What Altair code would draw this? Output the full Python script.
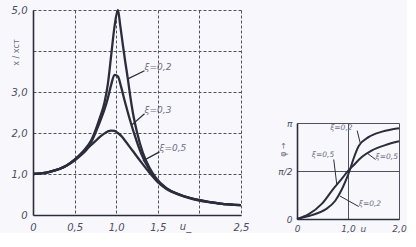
import math
import altair as alt
import pandas as pd

# ---------------- main chart: amplitude ratio vs u ----------------
u_02 = [0, 0.2, 0.4, 0.5, 0.6, 0.7, 0.8, 0.86, 0.9, 0.94, 0.98, 1.02, 1.05, 1.08, 1.11, 1.14, 1.17, 1.2, 1.25, 1.32, 1.4, 1.48, 1.6, 1.76, 2.0, 2.25, 2.5]
a_02 = [1.0, 1.05, 1.2, 1.35, 1.55, 1.82, 2.35, 2.75, 3.2, 3.9, 4.6, 5.0, 4.6, 4.15, 3.72, 3.32, 2.88, 2.5, 2.02, 1.52, 1.15, 0.9, 0.66, 0.5, 0.36, 0.28, 0.24]

u_03 = [0, 0.2, 0.4, 0.5, 0.6, 0.7, 0.8, 0.86, 0.9, 0.94, 0.98, 1.02, 1.06, 1.1, 1.14, 1.18, 1.22, 1.3, 1.4, 1.48, 1.6, 1.76, 2.0, 2.25, 2.5]
a_03 = [1.0, 1.05, 1.2, 1.35, 1.53, 1.78, 2.25, 2.58, 2.85, 3.18, 3.42, 3.38, 3.12, 2.8, 2.5, 2.22, 1.96, 1.5, 1.1, 0.87, 0.65, 0.5, 0.36, 0.28, 0.24]

u_05 = [0, 0.2, 0.4, 0.5, 0.6, 0.68, 0.75, 0.8, 0.86, 0.9, 0.94, 0.98, 1.02, 1.06, 1.1, 1.2, 1.3, 1.4, 1.5, 1.6, 1.76, 2.0, 2.25, 2.5]
a_05 = [1.0, 1.05, 1.2, 1.33, 1.5, 1.67, 1.8, 1.9, 1.99, 2.04, 2.06, 2.05, 2.0, 1.93, 1.83, 1.56, 1.29, 1.03, 0.8, 0.64, 0.49, 0.35, 0.28, 0.24]

main_x_ticks = [0, 0.5, 1.0, 1.5, 2.0, 2.5]
main_y_ticks = [0, 1, 2, 3, 4, 5]

main_label_text = ["ξ=0,2", "ξ=0,3", "ξ=0,5"]
main_label_u = [1.34, 1.34, 1.52]
main_label_a = [3.5, 2.45, 1.52]
main_leader_u1 = [1.14, 1.19, 1.32]
main_leader_a1 = [3.32, 2.2, 1.32]
main_leader_u2 = [1.34, 1.34, 1.52]
main_leader_a2 = [3.52, 2.47, 1.54]

# ---------------- inset: phase angle vs u ----------------
ui_02 = [0, 0.29, 0.56, 0.75, 0.88, 0.98, 1.03, 1.11, 1.21, 1.41, 1.67, 2.0]
phi_02 = [0, 0.04, 0.1, 0.19, 0.31, 0.43, 0.5, 0.63, 0.76, 0.855, 0.91, 0.945]
ui_05 = [0, 0.23, 0.49, 0.72, 0.88, 1.0, 1.11, 1.27, 1.47, 1.73, 2.0]
phi_05 = [0, 0.05, 0.16, 0.32, 0.42, 0.5, 0.56, 0.645, 0.715, 0.77, 0.81]

inset_label_text = ["ξ=0,5", "ξ=0,2", "ξ=0,2", "ξ=0,5"]
inset_label_u = [0.29, 1.21, 0.65, 1.54]
inset_label_phi = [0.62, 0.11, 0.91, 0.6]
inset_leader_u1 = [0.78, 0.84, 1.24, 1.39]
inset_leader_phi1 = [0.36, 0.24, 0.79, 0.68]
inset_leader_u2 = [0.72, 1.21, 1.18, 1.54]
inset_leader_phi2 = [0.62, 0.13, 0.92, 0.62]

INK = "#2c2c3c"
GRID = "#50505e"
TXT = "#4c4c62"
FAINT = "#6c6c86"
FONT = "DejaVu Sans"

# ---------- build main ----------
df_main = pd.concat([
    pd.DataFrame({"u": u_02, "a": a_02, "s": "0,2"}),
    pd.DataFrame({"u": u_03, "a": a_03, "s": "0,3"}),
    pd.DataFrame({"u": u_05, "a": a_05, "s": "0,5"}),
])

xm = alt.X("u:Q", scale=alt.Scale(domain=[0, 2.5], nice=False, zero=False),
           axis=alt.Axis(values=main_x_ticks,
                         labelExpr="datum.value == 2 ? '' : (datum.value == 0 ? '0' : replace(format(datum.value, '.1f'), '.', ','))",
                         grid=True, gridDash=[3, 2], gridColor=GRID, gridWidth=1,
                         ticks=False, domainColor=INK, domainWidth=1.6,
                         labelPadding=7, labelFont=FONT, labelFontSize=10, labelFontStyle="italic",
                         labelColor=TXT, labelFlush=False,
                         title="u_", titleX=152, titleY=6, titleBaseline="top", titleFont=FONT,
                         titleFontSize=10, titleFontStyle="italic", titleFontWeight="normal", titleColor=TXT))
ym = alt.Y("a:Q", scale=alt.Scale(domain=[0, 5], nice=False, zero=True),
           axis=alt.Axis(values=main_y_ticks,
                         labelExpr="datum.value == 4 ? '' : (datum.value == 0 ? '0' : replace(format(datum.value, '.1f'), '.', ','))",
                         grid=True, gridDash=[3, 2], gridColor=GRID, gridWidth=1,
                         ticks=False, domainColor=INK, domainWidth=1.6,
                         labelPadding=6, labelFont=FONT, labelFontSize=10, labelFontStyle="italic",
                         labelColor=TXT, labelFlush=False,
                         title="x / xст", titleX=-17, titleY=42, titleAngle=270, titleAlign="center",
                         titleBaseline="middle", titleFont=FONT, titleFontSize=8,
                         titleFontWeight="normal", titleColor=FAINT))

curves = alt.Chart(df_main).mark_line(interpolate="monotone", strokeWidth=2.3, color=INK).encode(
    x=xm, y=ym, detail="s:N")

df_ml = pd.DataFrame({"u": main_label_u, "a": main_label_a, "t": main_label_text})
mlabels = alt.Chart(df_ml).mark_text(align="left", baseline="bottom", font=FONT, fontSize=9,
                                     fontStyle="italic", color=FAINT).encode(
    x="u:Q", y="a:Q", text="t:N")
df_mr = pd.DataFrame({"u": main_leader_u1, "a": main_leader_a1, "u2": main_leader_u2, "a2": main_leader_a2})
mleaders = alt.Chart(df_mr).mark_rule(color=INK, strokeWidth=1.2).encode(
    x="u:Q", y="a:Q", x2="u2:Q", y2="a2:Q")

main = alt.layer(curves, mleaders, mlabels).properties(width=208, height=205)

# ---------- build inset ----------
df_in = pd.concat([
    pd.DataFrame({"u": ui_02, "phi": phi_02, "s": "0,2"}),
    pd.DataFrame({"u": ui_05, "phi": phi_05, "s": "0,5"}),
])
xi = alt.X("u:Q", scale=alt.Scale(domain=[0, 2], nice=False, zero=False),
           axis=alt.Axis(values=[0, 1, 2],
                         labelExpr="datum.value == 0 ? '0' : replace(format(datum.value, '.1f'), '.', ',')",
                         grid=True, gridColor=GRID, gridWidth=1, ticks=False,
                         domainColor=INK, domainWidth=1.6, labelPadding=5, labelFont=FONT,
                         labelFontSize=9, labelFontStyle="italic", labelColor=TXT, labelFlush=False,
                         title="u_", titleX=68, titleY=5, titleBaseline="top", titleFont=FONT,
                         titleFontSize=9, titleFontStyle="italic", titleFontWeight="normal", titleColor=TXT))
yi = alt.Y("phi:Q", scale=alt.Scale(domain=[0, 1], nice=False, zero=True),
           axis=alt.Axis(values=[0, 0.5, 1],
                         labelExpr="datum.value == 0 ? '0' : (datum.value == 1 ? 'π' : 'π/2')",
                         grid=True, gridColor=GRID, gridWidth=1, ticks=False,
                         domainColor=INK, domainWidth=1.6, labelPadding=5, labelFont=FONT,
                         labelFontSize=9, labelFontStyle="italic", labelColor=TXT, labelFlush=False,
                         title="φ →", titleX=-14, titleY=26, titleAngle=270, titleAlign="center",
                         titleBaseline="middle", titleFont=FONT, titleFontSize=8,
                         titleFontWeight="normal", titleColor=FAINT))
icurves = alt.Chart(df_in).mark_line(interpolate="monotone", strokeWidth=2.0, color=INK).encode(
    x=xi, y=yi, detail="s:N")
df_il = pd.DataFrame({"u": inset_label_u, "phi": inset_label_phi, "t": inset_label_text})
ilabels = alt.Chart(df_il).mark_text(align="left", baseline="bottom", font=FONT, fontSize=7.5,
                                     fontStyle="italic", color=FAINT).encode(
    x="u:Q", y="phi:Q", text="t:N")
df_ir = pd.DataFrame({"u": inset_leader_u1, "phi": inset_leader_phi1, "u2": inset_leader_u2, "phi2": inset_leader_phi2})
ileaders = alt.Chart(df_ir).mark_rule(color=INK, strokeWidth=1).encode(
    x="u:Q", y="phi:Q", x2="u2:Q", y2="phi2:Q")
inset = alt.layer(icurves, ileaders, ilabels).properties(width=102, height=96)

spacer = alt.Chart(pd.DataFrame({"v": [0]})).mark_point(opacity=0).encode(
    x=alt.X("v:Q", axis=None), y=alt.Y("v:Q", axis=None)).properties(width=102, height=109)

chart = alt.hconcat(main, alt.vconcat(spacer, inset, spacing=0), spacing=28).properties(
    padding={"left": 11, "top": 5, "right": 0, "bottom": 0},
    background="#f8f8fc",
).configure_view(stroke=None)

chart.save("out.html", embed_options={"renderer": "svg", "actions": False})
